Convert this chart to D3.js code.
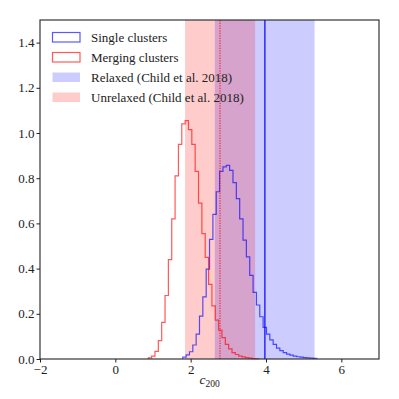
<!DOCTYPE html>
<html>
<head>
<meta charset="utf-8">
<script src="https://cdn.jsdelivr.net/npm/d3@7"></script>
<style>
  body { margin: 0; background: #fff; }
</style>
</head>
<body>
<div class="chart"></div>
<script>
// histogram of c200, single clusters (blue) - bins
const singleStart = 1.79;
const singleWidth = 0.0889;
const singleValues = [
  0.008, 0.018, 0.032, 0.062, 0.11, 0.19, 0.275, 0.398, 0.529, 0.64,
  0.74, 0.83, 0.85, 0.857, 0.835, 0.78, 0.71, 0.62, 0.526, 0.452,
  0.37, 0.295, 0.239, 0.187, 0.14, 0.11, 0.085, 0.065, 0.048, 0.037,
  0.028, 0.022, 0.017, 0.013, 0.01, 0.008, 0.006, 0.005, 0.004, 0.003,
];

// merging clusters (red)
const mergingStart = 0.875;
const mergingWidth = 0.0889;
const mergingValues = [
  0.005, 0.013, 0.034, 0.081, 0.162, 0.281, 0.44, 0.62, 0.81, 0.95,
  1.04, 1.055, 1.015, 0.95, 0.83, 0.69, 0.555, 0.45, 0.33, 0.235,
  0.172, 0.128, 0.095, 0.065, 0.045, 0.028, 0.02, 0.013, 0.009, 0.006,
  0.004, 0.002, 0.001,
];

// Child et al. 2018 ranges: [low, centre, high]
const relaxedRange = [2.64, 3.97, 5.29];
const unrelaxedRange = [1.85, 2.78, 3.71];

const xTicks = [-2, 0, 2, 4, 6];
const yTicks = [0, 0.2, 0.4, 0.6, 0.8, 1.0, 1.2, 1.4];
const legendLabels = [
  'Single clusters',
  'Merging clusters',
  'Relaxed (Child et al. 2018)',
  'Unrelaxed (Child et al. 2018)',
];

const width = 399;
const height = 399;
const margin = { top: 20, right: 20, bottom: 40, left: 40 };
const font = 'Liberation Serif';

const blueLine = 'rgba(0,0,255,0.65)';
const redLine = 'rgba(255,0,0,0.65)';
const blueFill = 'rgba(0,0,255,0.2)';
const redFill = 'rgba(255,0,0,0.2)';

const svg = d3.select('.chart')
  .append('svg')
  .attr('width', width)
  .attr('height', height);

const x = d3.scaleLinear()
  .domain([-2, 7])
  .range([margin.left, width - margin.right]);
const y = d3.scaleLinear()
  .domain([0, 1.5])
  .range([height - margin.bottom, margin.top]);

const plot = svg.append('g');

// shaded ranges, relaxed first so unrelaxed sits on top
[[relaxedRange, blueFill], [unrelaxedRange, redFill]].forEach(([range, fill]) => {
  plot.append('rect')
    .attr('x', x(range[0]))
    .attr('y', y(1.5))
    .attr('width', x(range[2]) - x(range[0]))
    .attr('height', y(0) - y(1.5))
    .attr('fill', fill);
});

function stepPoints(start, binWidth, values) {
  const pts = [[x(start), y(0)]];
  values.forEach((v, i) => {
    pts.push([x(start + i * binWidth), y(v)]);
    pts.push([x(start + (i + 1) * binWidth), y(v)]);
  });
  pts.push([x(start + values.length * binWidth), y(0)]);
  return pts;
}

const line = d3.line();

plot.append('path')
  .attr('d', line(stepPoints(singleStart, singleWidth, singleValues)))
  .attr('fill', 'none')
  .attr('stroke', blueLine)
  .attr('stroke-width', 1.2);

plot.append('path')
  .attr('d', line(stepPoints(mergingStart, mergingWidth, mergingValues)))
  .attr('fill', 'none')
  .attr('stroke', redLine)
  .attr('stroke-width', 1.2);

// centre values
plot.append('line')
  .attr('x1', x(relaxedRange[1]))
  .attr('x2', x(relaxedRange[1]))
  .attr('y1', y(0))
  .attr('y2', y(1.5))
  .attr('stroke', 'rgba(0,0,255,0.8)')
  .attr('stroke-width', 1.5);

plot.append('line')
  .attr('x1', x(unrelaxedRange[1]))
  .attr('x2', x(unrelaxedRange[1]))
  .attr('y1', y(0))
  .attr('y2', y(1.5))
  .attr('stroke', 'rgba(255,0,0,0.6)')
  .attr('stroke-width', 1.5)
  .attr('stroke-dasharray', '1.2,1.3');

// axes
const xAxis = svg.append('g')
  .attr('transform', `translate(0,${height - margin.bottom})`)
  .call(d3.axisBottom(x).tickValues(xTicks).tickSize(3.5).tickPadding(2)
    .tickFormat((d) => (d < 0 ? `\u2212${Math.abs(d)}` : `${d}`)));
const yAxis = svg.append('g')
  .attr('transform', `translate(${margin.left},0)`)
  .call(d3.axisLeft(y).tickValues(yTicks).tickSize(3.5).tickPadding(2)
    .tickFormat(d3.format('.1f')));

[xAxis, yAxis].forEach((axis) => {
  axis.attr('font-family', font).attr('font-size', 13);
  axis.select('.domain').remove();
  axis.selectAll('line').attr('stroke', '#222').attr('stroke-width', 1);
  axis.selectAll('text').attr('fill', '#222');
});

// frame
svg.append('rect')
  .attr('x', margin.left)
  .attr('y', margin.top)
  .attr('width', width - margin.left - margin.right)
  .attr('height', height - margin.top - margin.bottom)
  .attr('fill', 'none')
  .attr('stroke', '#222')
  .attr('stroke-width', 1.1);

// x label
const xLabel = svg.append('text')
  .attr('x', (margin.left + width - margin.right) / 2)
  .attr('y', 384)
  .attr('text-anchor', 'middle')
  .attr('font-family', font)
  .attr('font-size', 13.5)
  .attr('fill', '#222');
xLabel.append('tspan').attr('font-style', 'italic').text('c');
xLabel.append('tspan').attr('dy', 3).attr('font-size', 9.5).text('200');

// legend
const legend = svg.append('g')
  .attr('class', 'legend')
  .attr('font-family', font)
  .attr('font-size', 13);
const legendStyles = [
  { fill: 'none', stroke: blueLine },
  { fill: 'none', stroke: redLine },
  { fill: blueFill, stroke: 'none' },
  { fill: redFill, stroke: 'none' },
];
legendLabels.forEach((label, i) => {
  const row = legend.append('g')
    .attr('transform', `translate(52,${32 + i * 20})`);
  row.append('rect')
    .attr('x', 0.5)
    .attr('y', 0.5)
    .attr('width', 27.5)
    .attr('height', 9.5)
    .attr('fill', legendStyles[i].fill)
    .attr('stroke', legendStyles[i].stroke)
    .attr('stroke-width', 1.2);
  row.append('text')
    .attr('x', 39)
    .attr('y', 10)
    .attr('fill', '#222')
    .text(label);
});
</script>
</body>
</html>
